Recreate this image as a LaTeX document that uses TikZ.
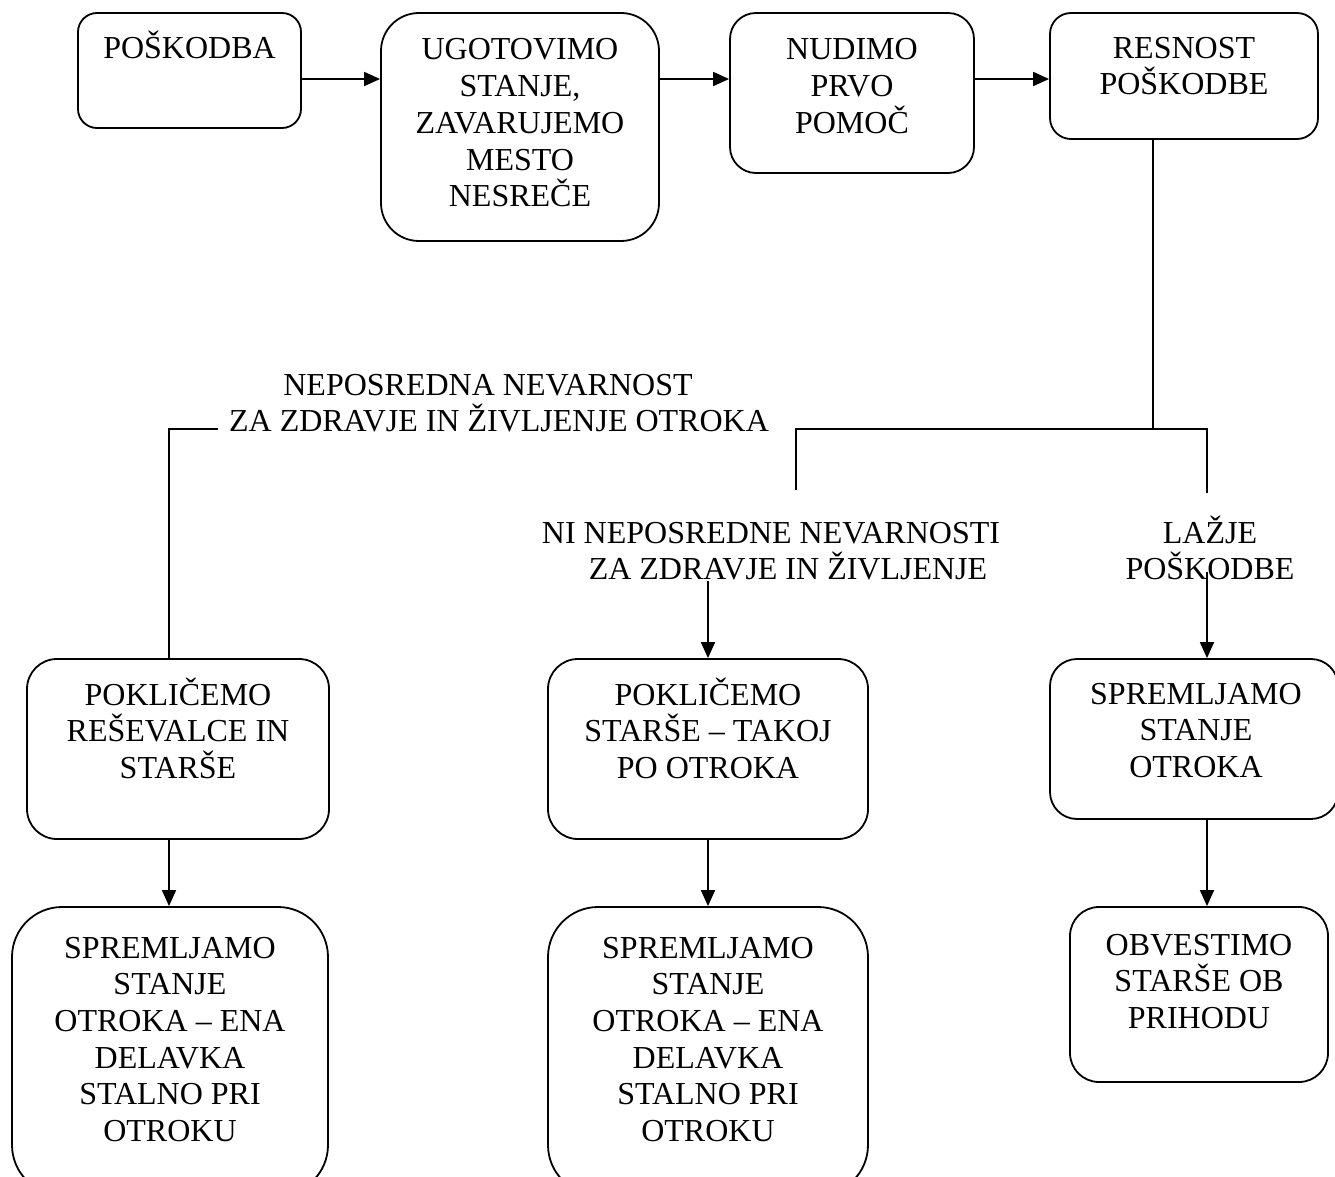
\documentclass[tikz,border=0pt]{standalone}
\usepackage{fontspec}
\setmainfont{Liberation Serif}
\usepackage{tikz}
\usetikzlibrary{arrows.meta, fit}

\tikzset{
  roundbox/.style={draw, line width=0.9pt, rounded corners=#1, inner sep=0pt},
  boxtext/.style={align=center, anchor=base, inner sep=0pt, font=\fontsize{16pt}{18.35pt}\selectfont},
  flow/.style={line width=0.9pt, -{Triangle[length=8pt, width=7pt]}},
  link/.style={line width=0.8pt},
}

\begin{document}
\begin{tikzpicture}[x=0.5pt, y=-0.5pt]
  \useasboundingbox (0,0) rectangle (1335,1177);
  \clip (0,0) rectangle (1335,1177);
  % top row (text nodes sit on the baseline of their last line)
  \node[roundbox=9.5pt, fit={(78,13) (301,128)}] (poskodba) {};
  \node[boxtext] (poskodba-t) at (189.5,59) {POŠKODBA};
  \node[roundbox=19pt, fit={(381,13) (659,241)}] (stanje) {};
  \node[boxtext] (stanje-t) at (520,206.8) {UGOTOVIMO\\STANJE,\\ZAVARUJEMO\\MESTO\\NESREČE};
  \node[roundbox=13pt, fit={(730,13) (974,173)}] (pomoc) {};
  \node[boxtext] (pomoc-t) at (852,133.4) {NUDIMO\\PRVO\\POMOČ};
  \node[roundbox=10.5pt, fit={(1050,13) (1318,139)}] (resnost) {};
  \node[boxtext] (resnost-t) at (1184,94.7) {RESNOST\\POŠKODBE};
  % arrows between the top boxes
  \draw[flow] (poskodba.east |- 0,79) -- (stanje.west |- 0,79);
  \draw[flow] (stanje.east |- 0,79) -- (pomoc.west |- 0,79);
  \draw[flow] (pomoc.east |- 0,79) -- (resnost.west |- 0,79);
  % branch labels
  \node[boxtext, inner xsep=5.5pt] (nevarnost) at (499,431.7) {NEPOSREDNA NEVARNOST\hspace*{11pt}\\ZA ZDRAVJE IN ŽIVLJENJE OTROKA};
  \node[boxtext] (ninevarnosti) at (771,579.7) {NI NEPOSREDNE NEVARNOSTI\\\hspace*{17pt}ZA ZDRAVJE IN ŽIVLJENJE};
  \node[boxtext] (lazje) at (1210,579.7) {LAŽJE\\POŠKODBE};
  % branch lines
  \coordinate (split) at (1153,429);
  \coordinate (mid-in) at (796,490);
  \coordinate (light-in) at (1207,493);
  \draw[link] (resnost.south -| split) -- (split);
  \draw[link] (split) -| (mid-in);
  \draw[link] (split) -| (light-in);
  % second row
  \node[roundbox=15pt, fit={(27,659) (329,839)}] (klicemo) {};
  \node[boxtext] (klicemo-t) at (178,778.4) {POKLIČEMO\\REŠEVALCE IN\\STARŠE};
  \node[roundbox=15pt, fit={(548,659) (868,839)}] (starse) {};
  \node[boxtext] (starse-t) at (708,778.4) {POKLIČEMO\\STARŠE – TAKOJ\\PO OTROKA};
  \node[roundbox=13.5pt, fit={(1050,659) (1338,819)}] (spremljamo) {};
  \node[boxtext] (spremljamo-t) at (1196,777.4) {SPREMLJAMO\\STANJE\\OTROKA};
  \draw[link] (nevarnost.west |- split) -| (klicemo.north -| 169,0);
  \draw[flow] (ninevarnosti.south -| starse.north) -- (starse.north);
  \draw[flow] ([yshift=4pt]lazje.south -| light-in) -- (spremljamo.north -| light-in);
  % third row
  \node[roundbox=25pt, fit={(12,907) (328,1195)}] (delavka) {};
  \node[boxtext] (delavka-t) at (170,1141.5) {SPREMLJAMO\\STANJE\\OTROKA – ENA\\DELAVKA\\STALNO PRI\\OTROKU};
  \node[roundbox=25pt, fit={(548,907) (868,1195)}] (delavka2) {};
  \node[boxtext] (delavka2-t) at (708,1141.5) {SPREMLJAMO\\STANJE\\OTROKA – ENA\\DELAVKA\\STALNO PRI\\OTROKU};
  \node[roundbox=14.5pt, fit={(1070,907) (1328,1082)}] (obvestimo) {};
  \node[boxtext] (obvestimo-t) at (1199,1028.4) {OBVESTIMO\\STARŠE OB\\PRIHODU};
  \draw[flow] (klicemo.south -| 169,0) -- (delavka.north -| 169,0);
  \draw[flow] (starse.south) -- (delavka2.north);
  \draw[flow] (spremljamo.south -| light-in) -- (obvestimo.north -| light-in);
\end{tikzpicture}
\end{document}
